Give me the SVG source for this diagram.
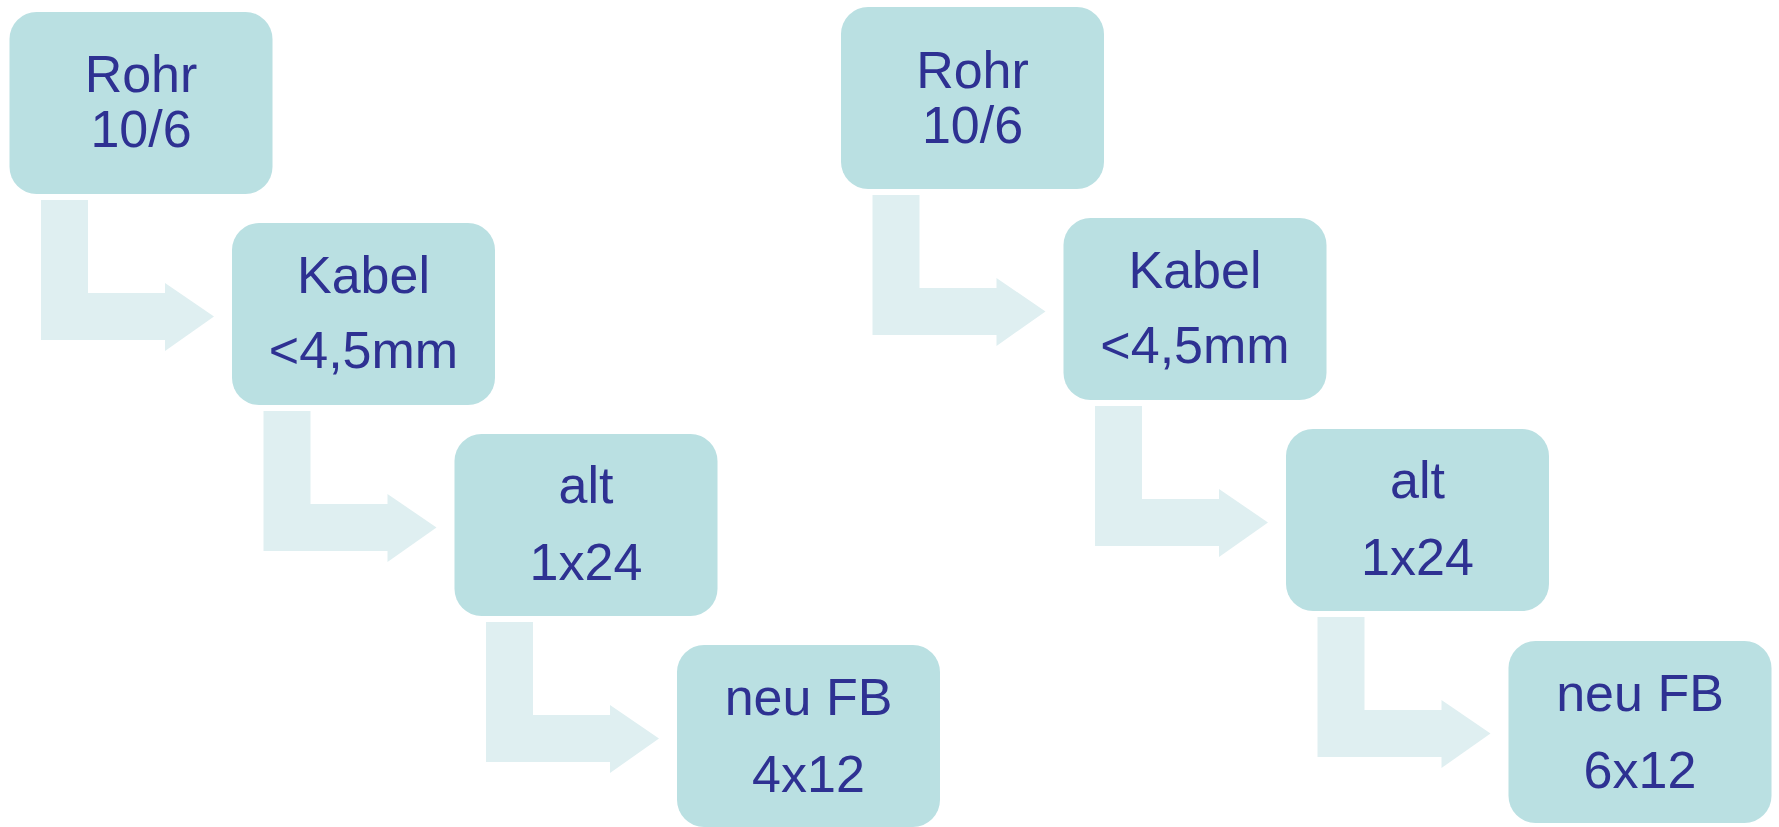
<svg xmlns="http://www.w3.org/2000/svg" width="1779" height="827" viewBox="0 0 1779 827">
  <defs>
    <style>
      .box { fill: #BAE0E2; }
      .arrow { fill: #DFEFF1; }
      .label { font-family: "Liberation Sans", Arial, sans-serif; font-size: 52px; fill: #2E3192; text-anchor: middle; }
    </style>
    <!-- bent arrow, relative to the top-left corner of its source box -->
    <path id="bend" d="M31.5,188 H78.5 V281 H155.5 V271 L204.5,304.5 L155.5,339 V328 H31.5 Z"/>
    <rect id="card" x="0" y="0" width="263" height="182" rx="27" ry="27"/>
  </defs>
  <rect width="1779" height="827" fill="#FFFFFF"/>

  <!-- connectors -->
  <g id="connectors" class="arrow">
    <use href="#bend" transform="translate(9.5,12)"/>
    <use href="#bend" transform="translate(232,223)"/>
    <use href="#bend" transform="translate(454.5,434)"/>
    <use href="#bend" transform="translate(841,7)"/>
    <use href="#bend" transform="translate(1063.5,218)"/>
    <use href="#bend" transform="translate(1286,429)"/>
  </g>

  <!-- left chain -->
  <g id="left-rohr" transform="translate(9.5,12)">
    <use href="#card" class="box"/>
    <text class="label" x="131.5" y="80">Rohr</text>
    <text class="label" x="131.5" y="135">10/6</text>
  </g>
  <g id="left-kabel" transform="translate(232,223)">
    <use href="#card" class="box"/>
    <text class="label" x="131.5" y="70">Kabel</text>
    <text class="label" x="131.5" y="145">&lt;4,5mm</text>
  </g>
  <g id="left-alt" transform="translate(454.5,434)">
    <use href="#card" class="box"/>
    <text class="label" x="131.5" y="69">alt</text>
    <text class="label" x="131.5" y="146">1x24</text>
  </g>
  <g id="left-neu" transform="translate(677,645)">
    <use href="#card" class="box"/>
    <text class="label" x="131.5" y="70">neu FB</text>
    <text class="label" x="131.5" y="147">4x12</text>
  </g>

  <!-- right chain -->
  <g id="right-rohr" transform="translate(841,7)">
    <use href="#card" class="box"/>
    <text class="label" x="131.5" y="81">Rohr</text>
    <text class="label" x="131.5" y="136">10/6</text>
  </g>
  <g id="right-kabel" transform="translate(1063.5,218)">
    <use href="#card" class="box"/>
    <text class="label" x="131.5" y="70">Kabel</text>
    <text class="label" x="131.5" y="145">&lt;4,5mm</text>
  </g>
  <g id="right-alt" transform="translate(1286,429)">
    <use href="#card" class="box"/>
    <text class="label" x="131.5" y="69">alt</text>
    <text class="label" x="131.5" y="146">1x24</text>
  </g>
  <g id="right-neu" transform="translate(1508.5,641)">
    <use href="#card" class="box"/>
    <text class="label" x="131.5" y="70">neu FB</text>
    <text class="label" x="131.5" y="147">6x12</text>
  </g>
</svg>
